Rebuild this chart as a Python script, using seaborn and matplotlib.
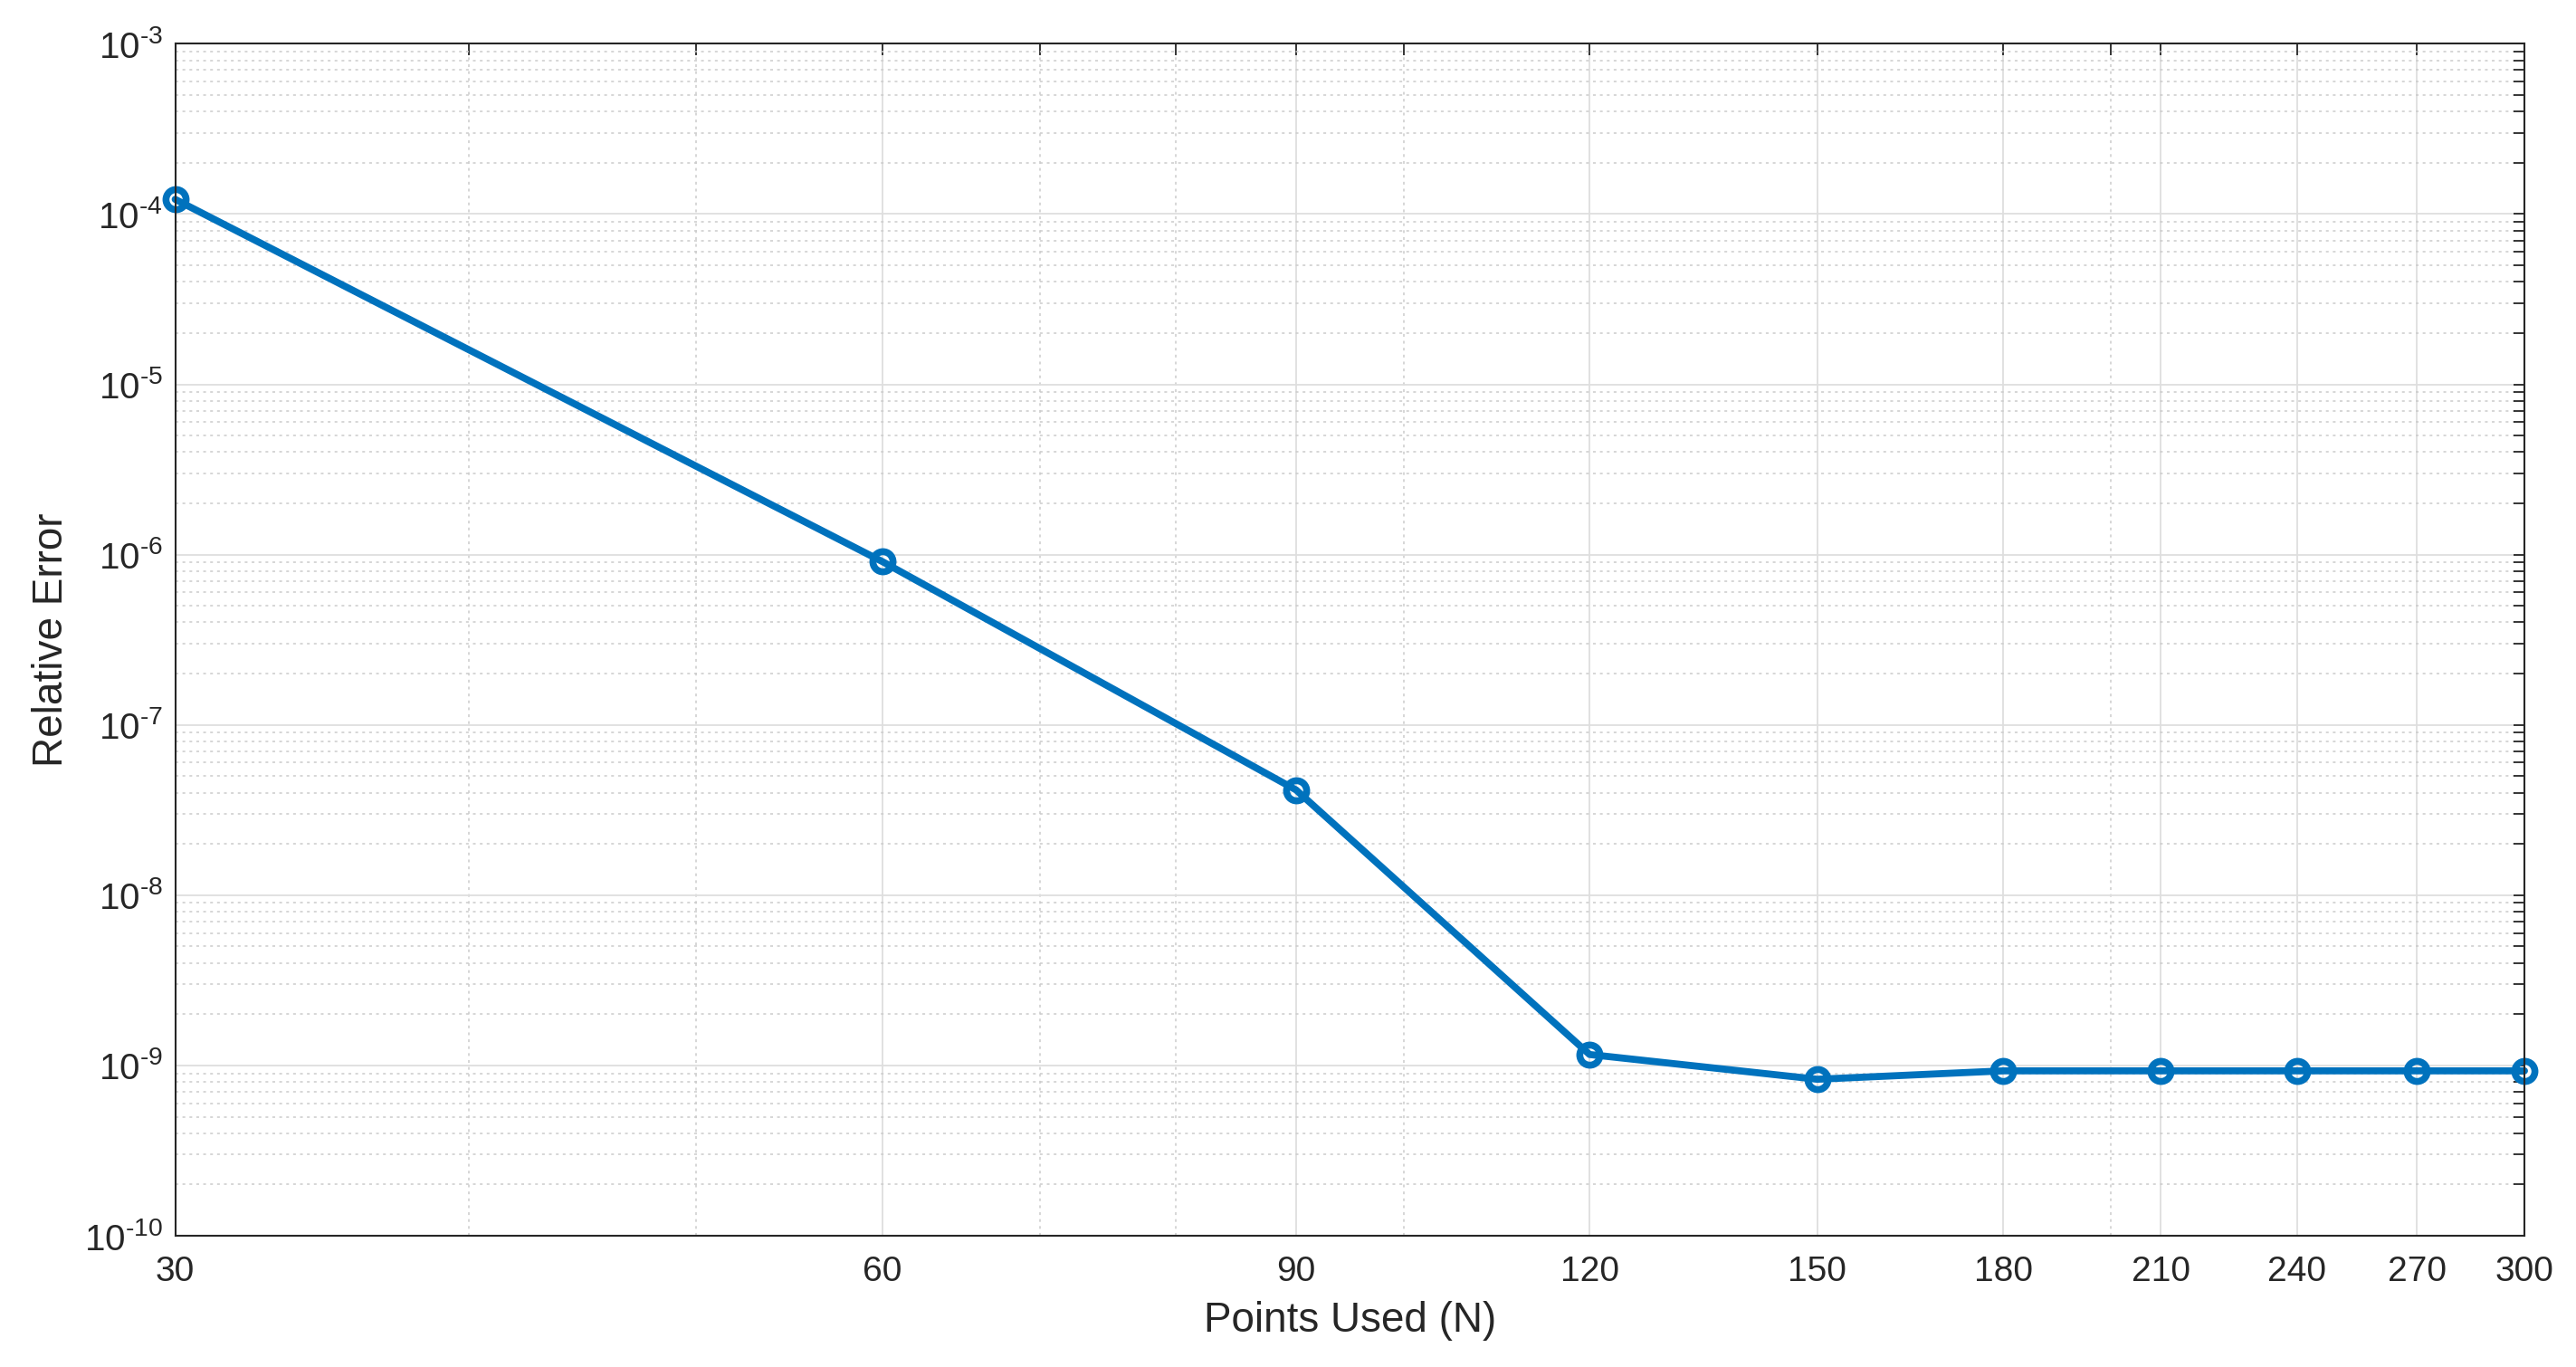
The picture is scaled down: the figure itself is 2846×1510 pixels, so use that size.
import numpy as np
import pandas as pd
import matplotlib
matplotlib.use("Agg")
import matplotlib.pyplot as plt
import seaborn as sns
from matplotlib.ticker import NullFormatter, FixedLocator, FixedFormatter, LogLocator

# values
points_used = [30, 60, 90, 120, 150, 180, 210, 240, 270, 300]
rel_error = [1.22e-4, 9.1e-7, 4.15e-8, 1.16e-9, 8.3e-10, 9.3e-10, 9.3e-10, 9.3e-10, 9.3e-10, 9.3e-10]
x_ticks = [30, 60, 90, 120, 150, 180, 210, 240, 270, 300]
x_minor = [40, 50, 70, 80, 100, 200]
y_exps = [-10, -9, -8, -7, -6, -5, -4, -3]

sns.set_style("white")
plt.rcParams['font.family'] = ['Liberation Sans', 'DejaVu Sans']
plt.rcParams['mathtext.fontset'] = 'custom'
plt.rcParams['mathtext.rm'] = 'Liberation Sans'
plt.rcParams['mathtext.it'] = 'Liberation Sans'

df = pd.DataFrame({"N": points_used, "err": rel_error})

fig = plt.figure(figsize=(28.46, 15.10), dpi=100)
ax = fig.add_axes([0.068, 0.096, 0.912, 0.872])

blue = '#0072BD'
sns.lineplot(data=df, x="N", y="err", ax=ax, color=blue, marker='o')
ln = ax.lines[0]
ln.set_linewidth(5.6)
ln.set_markersize(16)
ln.set_markerfacecolor('none')
ln.set_markeredgecolor(blue)
ln.set_markeredgewidth(5.5)
ln.set_clip_on(False)

ax.set_xscale('log')
ax.set_yscale('log')
ax.set_xlim(30, 300)
ax.set_ylim(1e-10, 1e-3)

ax.xaxis.set_major_locator(FixedLocator(x_ticks))
ax.xaxis.set_major_formatter(FixedFormatter([str(t) for t in x_ticks]))
ax.xaxis.set_minor_locator(FixedLocator(x_minor))
ax.xaxis.set_minor_formatter(NullFormatter())
ax.yaxis.set_major_locator(FixedLocator([10.0 ** e for e in y_exps]))
ax.yaxis.set_major_formatter(FixedFormatter([r'$10^{\text{-}%d}$' % (-e) for e in y_exps]))
ax.yaxis.set_minor_locator(LogLocator(base=10, subs=np.arange(2, 10), numticks=20))
ax.yaxis.set_minor_formatter(NullFormatter())

ax.grid(True, which='major', color='#dedede', linestyle='-', linewidth=1.3)
ax.grid(True, which='minor', color='#cccccc', linestyle=(0, (2, 3)), linewidth=1.1)

ax.tick_params(which='both', direction='in', top=True, right=True, colors='#262626',
               length=9, width=1.3)
ax.tick_params(axis='x', which='major', labelsize=28, pad=16)
ax.tick_params(axis='y', which='major', labelsize=29, pad=10)
for s in ax.spines.values():
    s.set_color('#262626')
    s.set_linewidth(1.5)

ax.set_xlabel("Points Used (N)", fontsize=33, color='#262626', labelpad=10)
ax.set_ylabel("Relative Error", fontsize=33, color='#262626', labelpad=10)

fig.savefig("out.png", dpi=100)
